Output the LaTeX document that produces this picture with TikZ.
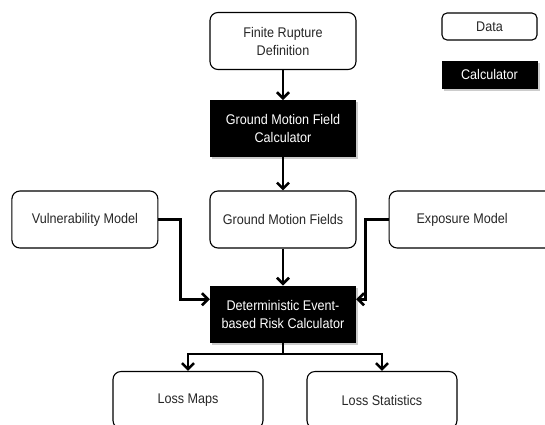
\documentclass[tikz,border=0pt]{standalone}
\usepackage{fontspec}
\setmainfont{Liberation Sans}[FakeStretch=0.9]
\usepackage{tikz}
\usetikzlibrary{positioning,arrows.meta,shadows}

\begin{document}
\begin{tikzpicture}[>={Straight Barb[length=6pt,width=12pt]}, node distance=30pt, font=\fontsize{14}{18}\selectfont,
    data/.style={draw, rounded corners=8pt, line width=1.1pt, fill=white, minimum width=146pt, minimum height=57pt, align=center, text=black!85},
    calc/.style={fill=black, text=white, minimum width=146pt, minimum height=57pt, align=center, drop shadow={shadow xshift=2pt, shadow yshift=-2pt, fill=black!40}},
    flow/.style={->, line width=2.6pt}]

      \useasboundingbox (0,0) rectangle (545pt,-424pt);
      \clip (0,0) rectangle (545pt,-424pt);

      \node[data] (frd) at (283pt,-41pt) {Finite Rupture\\Definition};
      \node[calc] (gmfc) [below=30pt of frd] {Ground Motion Field\\Calculator};
      \node[data] (gmf) [below=33pt of gmfc] {Ground Motion Fields};
      \node[data] (vm) [left=51pt of gmf] {Vulnerability Model};
      \node[data, minimum width=170pt] (em) [right=32pt of gmf] {\hspace*{-24pt}Exposure Model};
      \node[calc] (derc) [below=37pt of gmf] {Deterministic Event-\\based Risk Calculator};
      \node[data, minimum width=150pt] (lm) [below=28pt of derc, xshift=-95pt] {Loss Maps};
      \node[data, minimum width=150pt] (ls) [below=28pt of derc, xshift=99pt] {Loss Statistics};

      % legend
      \node[data, minimum width=95pt, minimum height=27pt, rounded corners=5pt] (key1) at (489.5pt,-26.5pt) {Data};
      \node[calc, minimum width=96pt, minimum height=28pt, drop shadow={opacity=0}] (key2) [below=20pt of key1] {Calculator};

      \path[flow]
      (frd) edge (gmfc)
      (gmfc) edge (gmf)
      (gmf) edge (derc);

      \draw[flow] (vm.east) -- ++(22pt,0) |- ([yshift=15pt]derc.west);
      \draw[flow] (em.west) -- ++(-23pt,0) |- ([yshift=15pt]derc.east);
      \draw[flow] (derc.south) -- ++(0,-11pt) -| (lm.north);
      \draw[flow] (derc.south) -- ++(0,-11pt) -| (ls.north);
    \end{tikzpicture}
\end{document}
